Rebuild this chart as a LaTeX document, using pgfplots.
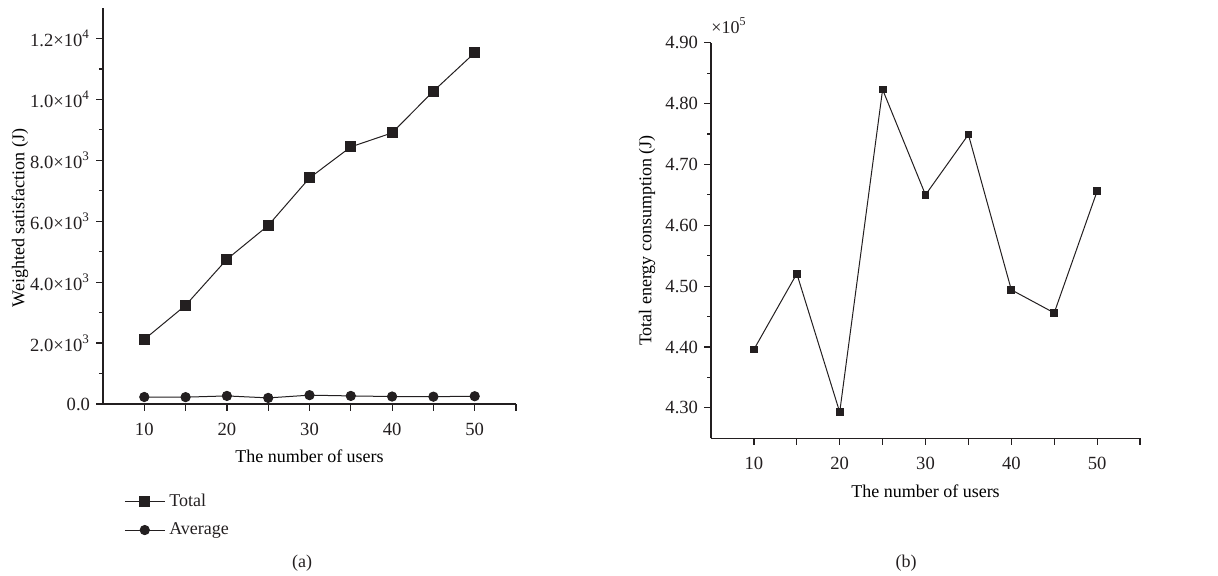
\documentclass[border=0pt]{standalone}
\usepackage{fontspec}
\setmainfont{Liberation Serif}
\usepackage{pgfplots}
\pgfplotsset{compat=1.18}
\definecolor{ink}{HTML}{231F20}
\begin{document}
\fontsize{9}{11}\selectfont
\begin{tikzpicture}[x=1pt,y=1pt]
\useasboundingbox (0,0) rectangle (609,288);
\pgfplotsset{
 myaxis/.style={
  scale only axis, anchor=south west,
  axis x line*=bottom, axis y line*=left,
  axis line style={ink, line width=0.6pt, -},
  tick align=outside,
  major tick length=3.3pt, minor tick length=2pt,
  every tick/.style={ink, line width=0.6pt},
  tick label style={font=\fontsize{9.3}{11}\selectfont, text=ink},
  xticklabel style={yshift=-3pt},
  label style={font=\fontsize{9}{11}\selectfont, text=ink},
  xmin=5, xmax=55,
  xtick={10,15,20,25,30,35,40,45,50,55}, xticklabels={10,,20,,30,,40,,50,},
  clip=false,
  scaled y ticks=false,
  xlabel={The number of users},
  every axis x label/.style={at={(axis description cs:0.5,0)}, anchor=center, yshift=-26.3pt},
 }
}
\begin{axis}[myaxis, at={(51.5pt,86pt)}, width=206.5pt, height=198pt,
  ymin=0, ymax=13000,
  ytick={0,2000,4000,6000,8000,10000,12000},
  yticklabels={0.0, 2.0×10\textsuperscript{3}, 4.0×10\textsuperscript{3}, 6.0×10\textsuperscript{3}, 8.0×10\textsuperscript{3}, 1.0×10\textsuperscript{4}, 1.2×10\textsuperscript{4}},
  minor ytick={1000,3000,5000,7000,9000,11000},
  ylabel={Weighted satisfaction (J)},
  every axis y label/.style={at={(axis description cs:-0.201,0.47)}, rotate=90, anchor=center},
  legend style={at={(axis description cs:0.036,-0.205)}, anchor=north west, draw=none, fill=none, row sep=3pt, font=\fontsize{9}{11}\selectfont, text=ink},
  legend cell align=left,
  legend image code/.code={\draw[mark repeat=2,mark phase=2,#1] plot coordinates {(0pt,0pt)(10pt,0pt)(20pt,0pt)};},
]
\addplot[ink, line width=0.5pt, mark=square*, mark size=2.5pt, mark options={solid, fill=ink}] coordinates {
 (10,2120)(15,3240)(20,4750)(25,5860)(30,7420)(35,8440)(40,8900)(45,10270)(50,11530)};
\addlegendentry{Total}
\addplot[ink, line width=0.5pt, mark=*, mark size=2.3pt, mark options={solid, fill=ink}] coordinates {
 (10,230)(15,225)(20,265)(25,200)(30,290)(35,265)(40,245)(45,240)(50,255)};
\addlegendentry{Average}
\end{axis}
\begin{axis}[myaxis, at={(355.5pt,68.85pt)}, width=214.5pt, height=197.8pt,
  ymin=425000, ymax=490000,
  ytick={430000,440000,450000,460000,470000,480000,490000},
  yticklabels={4.30,4.40,4.50,4.60,4.70,4.80,4.90},
  minor ytick={435000,445000,455000,465000,475000,485000},
  ylabel={Total energy consumption (J)},
  every axis y label/.style={at={(axis description cs:-0.149,0.5)}, rotate=90, anchor=center},
]
\addplot[ink, line width=0.5pt, mark=square*, mark size=1.7pt, mark options={solid, fill=ink}] coordinates {
 (10,439600)(15,452050)(20,429300)(25,482300)(30,465000)(35,474900)(40,449400)(45,445600)(50,465600)};
\node[anchor=south west, inner sep=0pt, text=ink, yshift=4.5pt] at (rel axis cs:0,1) {×10\textsuperscript{5}};
\end{axis}
\node[text=ink] at (151,6.5) {(a)};
\node[text=ink] at (453,6.5) {(b)};
\end{tikzpicture}
\end{document}
